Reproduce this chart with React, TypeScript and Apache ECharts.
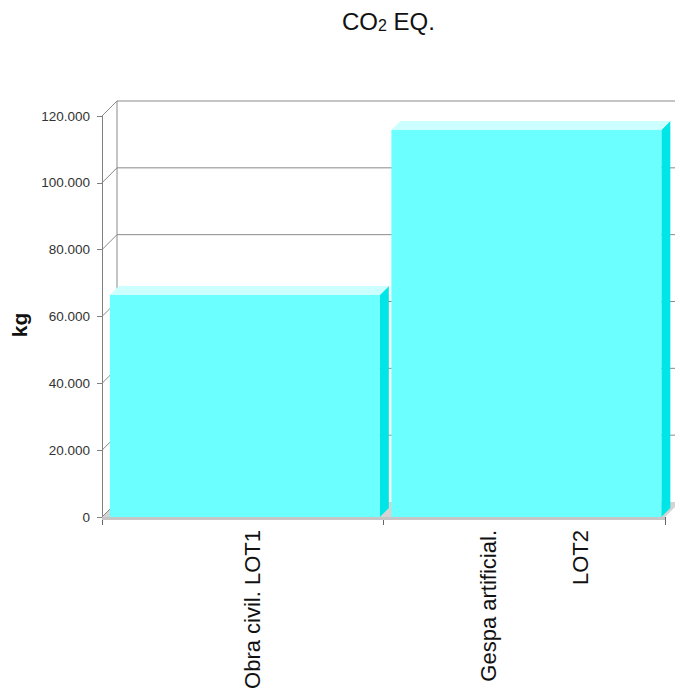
import React, { useEffect, useRef } from "react";
import * as echarts from "echarts";

const categories = ["Obra civil. LOT1", "Gespa artificial.\nLOT2"];
const co2Values = [66400, 115800];
const yTicks = [0, 20000, 40000, 60000, 80000, 100000, 120000];

const FONT = "'Liberation Sans', Arial, sans-serif";
const WALL_D = 15;
const BAR_D = 9;

function fmt(v: number): string {
  return String(v).replace(/\B(?=(\d{3})+(?!\d))/g, ".");
}

export default function App() {
  const ref = useRef<HTMLDivElement>(null);
  useEffect(() => {
    if (!ref.current) return;
    const chart = echarts.init(ref.current, undefined, { renderer: "svg" });
    const option: any = {
      animation: false,
      backgroundColor: "#ffffff",
      title: {
        text: "{m|CO}{s|2}{m| EQ.}",
        left: 342,
        top: 9,
        padding: 0,
        textStyle: {
          fontWeight: "normal",
          rich: {
            m: { fontSize: 24, fontFamily: FONT, fontWeight: "normal", color: "#111", lineHeight: 24 },
            s: { fontSize: 16, fontFamily: FONT, fontWeight: "normal", color: "#111", lineHeight: 10, verticalAlign: "bottom" },
          },
        },
      },
      grid: { left: 102, right: 10, top: 116, bottom: 175 },
      xAxis: {
        type: "category",
        data: categories,
        boundaryGap: true,
        axisLine: { show: false },
        axisTick: { show: true, length: 8, interval: 0, lineStyle: { color: "#666" } },
        axisLabel: {
          interval: 0,
          rotate: 90,
          margin: 13,
          fontSize: 22,
          fontFamily: FONT,
          color: "#111",
          formatter: (v: string) =>
            "{e| }\n" + v.split("\n").map((s) => "{a|" + s + "}").join("\n"),
          rich: {
            e: { fontSize: 1, lineHeight: 20 },
            a: { fontSize: 22, fontFamily: FONT, color: "#111", lineHeight: 92 },
          },
        },
        splitLine: { show: false },
      },
      yAxis: {
        type: "value",
        min: 0,
        max: 120000,
        interval: 20000,
        name: "kg",
        nameLocation: "middle",
        nameGap: 67,
        nameTextStyle: {
          fontSize: 21,
          fontWeight: "bold",
          fontFamily: FONT,
          color: "#111",
          padding: [0, 17, 0, 0],
        },
        axisLine: { show: true, lineStyle: { color: "#808080" } },
        axisTick: { show: true, length: 5, lineStyle: { color: "#808080" } },
        axisLabel: {
          margin: 12,
          fontSize: 13.5,
          fontFamily: FONT,
          color: "#333",
          formatter: (v: number) => fmt(v),
        },
        splitLine: { show: false },
      },
      series: [
        {
          type: "custom",
          silent: true,
          z: 1,
          encode: { x: 0, y: 1 },
          data: yTicks.map((v) => [0, v]),
          renderItem: (params: any, api: any) => {
            const cs = params.coordSys;
            const v = api.value(1);
            const y = api.coord([0, v])[1];
            const x0 = cs.x;
            const xr = cs.x + cs.width;
            const children: any[] = [];
            const lineStyle = { stroke: "#8a8a8a", lineWidth: 1 };
            if (v === 0) {
              children.push({
                type: "polygon",
                shape: { points: [[x0, y], [xr, y], [xr + WALL_D, y - WALL_D], [x0 + WALL_D, y - WALL_D]] },
                style: { fill: "#d4d4d4" },
              });
              children.push({
                type: "rect",
                shape: { x: x0, y: y, width: xr - x0, height: 3 },
                style: { fill: "#c6c6c6" },
              });
              children.push({
                type: "line",
                shape: { x1: x0 + WALL_D, y1: y - WALL_D, x2: x0 + WALL_D, y2: cs.y - WALL_D },
                style: lineStyle,
              });
              children.push({
                type: "line",
                shape: { x1: x0, y1: y, x2: x0 + WALL_D, y2: y - WALL_D },
                style: lineStyle,
              });
            } else {
              children.push({
                type: "line",
                shape: { x1: x0 + WALL_D, y1: y - WALL_D, x2: xr + WALL_D + 20, y2: y - WALL_D },
                style: lineStyle,
              });
              children.push({
                type: "line",
                shape: { x1: x0, y1: y, x2: x0 + WALL_D, y2: y - WALL_D },
                style: lineStyle,
              });
            }
            return { type: "group", children };
          },
        },
        {
          type: "custom",
          name: "CO2 EQ.",
          z: 3,
          encode: { x: 0, y: 1 },
          data: co2Values.map((v, i) => [i, v]),
          renderItem: (params: any, api: any) => {
            const idx = api.value(0);
            const v = api.value(1);
            const top = api.coord([idx, v]);
            const base = api.coord([idx, 0]);
            const catW = api.size([1, 0])[0];
            const left = top[0] - catW / 2 + catW * 0.028;
            const w = catW * 0.959;
            const ty = top[1];
            const by = base[1];
            const d = BAR_D;
            return {
              type: "group",
              children: [
                {
                  type: "polygon",
                  shape: { points: [[left + w, ty], [left + w + d, ty - d], [left + w + d, by - d], [left + w, by]] },
                  style: { fill: "#00e6e6" },
                },
                {
                  type: "polygon",
                  shape: { points: [[left, ty], [left + w, ty], [left + w + d, ty - d], [left + d, ty - d]] },
                  style: { fill: "#ccffff" },
                },
                {
                  type: "rect",
                  shape: { x: left, y: ty, width: w, height: by - ty },
                  style: { fill: "#6bffff" },
                },
              ],
            };
          },
        },
      ],
    };
    chart.setOption(option);
    return () => chart.dispose();
  }, []);
  return (
    <div
      ref={ref}
      style={{ position: "absolute", left: 0, top: 0, width: 675, height: 692 }}
    />
  );
}
